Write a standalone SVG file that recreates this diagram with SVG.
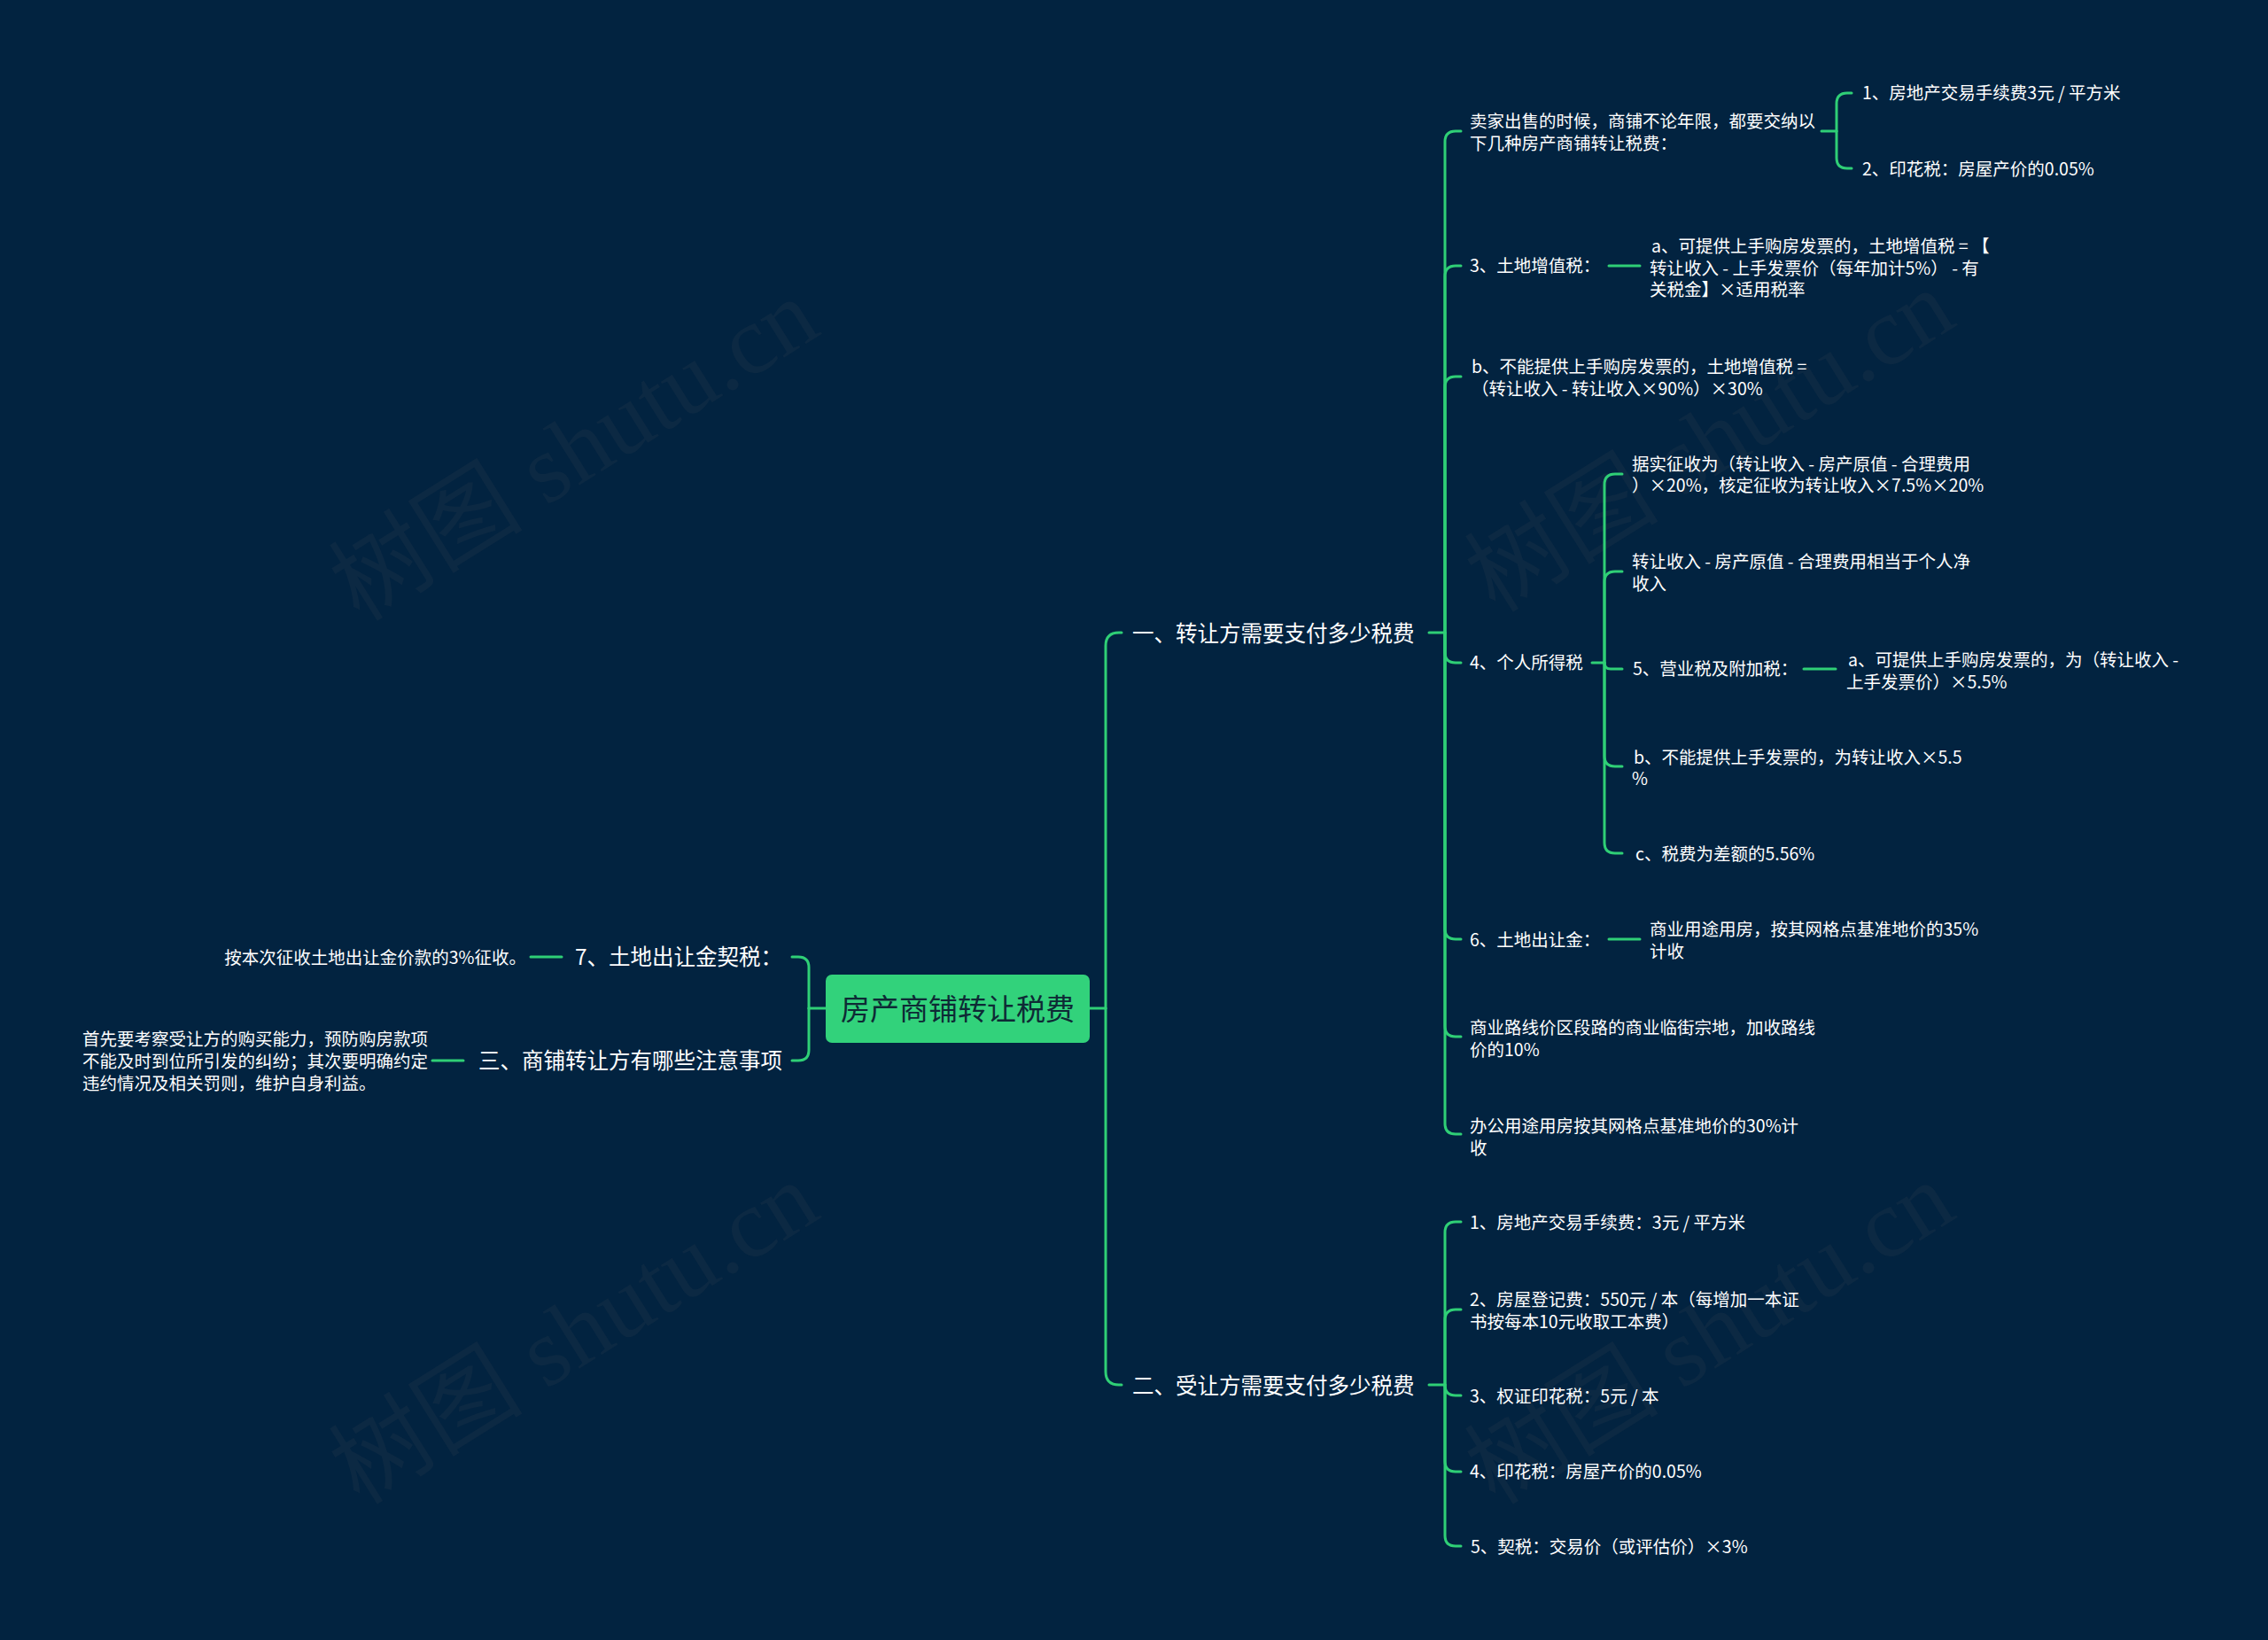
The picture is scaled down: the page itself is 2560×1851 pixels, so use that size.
<svg xmlns="http://www.w3.org/2000/svg" width="2560" height="1851" viewBox="0 0 2560 1851">
<style>
.conn{fill:none;stroke:#2fcf76;stroke-width:3;stroke-linecap:round;stroke-linejoin:round}
.t1{font-family:"Noto Sans CJK SC","Noto Sans",sans-serif;font-size:24.5px;fill:#ffffff;dominant-baseline:central}
.t2{font-family:"Noto Sans CJK SC","Noto Sans",sans-serif;font-size:19.5px;fill:#ffffff;dominant-baseline:central}
.root{font-family:"Noto Sans CJK SC","Noto Sans",sans-serif;font-size:33px;fill:#0e2a35;dominant-baseline:central;text-anchor:middle}
.wm{font-family:"Liberation Serif","Noto Sans CJK SC",serif;font-size:110px;fill:#0c2943;text-anchor:middle;dominant-baseline:central}
.end{text-anchor:end}
</style>
<rect x="0" y="0" width="2560" height="1851" fill="#022340"/>
<g id="watermarks">
<text class="wm" transform="translate(648,508) rotate(-32)">树图 shutu.cn</text>
<text class="wm" transform="translate(1930,498) rotate(-32)">树图 shutu.cn</text>
<text class="wm" transform="translate(648,1505) rotate(-32)">树图 shutu.cn</text>
<text class="wm" transform="translate(1930,1505) rotate(-32)">树图 shutu.cn</text>
</g>
<g id="connectors">
<path class="conn" d="M1230,1138 H1248"/>
<path class="conn" d="M1248,1138 V729 Q1248,714 1263,714 H1266"/>
<path class="conn" d="M1248,1138 V1548 Q1248,1563 1263,1563 H1266"/>
<path class="conn" d="M932,1138 H913"/>
<path class="conn" d="M913,1138 V1092 Q913,1080 901,1080 H894"/>
<path class="conn" d="M913,1138 V1185 Q913,1197 901,1197 H894"/>
<path class="conn" d="M634,1080 H599"/>
<path class="conn" d="M523,1197 H488"/>
<path class="conn" d="M1613,714 H1631"/>
<path class="conn" d="M1631,714 V160 Q1631,148 1643,148 H1649"/>
<path class="conn" d="M1631,714 V312 Q1631,300 1643,300 H1649"/>
<path class="conn" d="M1631,714 V437 Q1631,425 1643,425 H1649"/>
<path class="conn" d="M1631,714 V736 Q1631,748 1643,748 H1649"/>
<path class="conn" d="M1631,714 V1048 Q1631,1060 1643,1060 H1649"/>
<path class="conn" d="M1631,714 V1158 Q1631,1170 1643,1170 H1649"/>
<path class="conn" d="M1631,714 V1268 Q1631,1280 1643,1280 H1649"/>
<path class="conn" d="M2056,148 H2073"/>
<path class="conn" d="M2073,148 V117 Q2073,105 2085,105 H2090"/>
<path class="conn" d="M2073,148 V178 Q2073,190 2085,190 H2090"/>
<path class="conn" d="M1816,300 H1851"/>
<path class="conn" d="M1797,748 H1811"/>
<path class="conn" d="M1811,748 V547 Q1811,535 1823,535 H1831"/>
<path class="conn" d="M1811,748 V657 Q1811,645 1823,645 H1831"/>
<path class="conn" d="M1811,748 Q1811,755 1818,755 H1831"/>
<path class="conn" d="M1811,748 V853 Q1811,865 1823,865 H1831"/>
<path class="conn" d="M1811,748 V951 Q1811,963 1823,963 H1831"/>
<path class="conn" d="M2036,755 H2072"/>
<path class="conn" d="M1816,1060 H1851"/>
<path class="conn" d="M1613,1563 H1631"/>
<path class="conn" d="M1631,1563 V1391 Q1631,1379 1643,1379 H1649"/>
<path class="conn" d="M1631,1563 V1490 Q1631,1478 1643,1478 H1649"/>
<path class="conn" d="M1631,1563 Q1631,1575 1643,1575 H1649"/>
<path class="conn" d="M1631,1563 V1649 Q1631,1661 1643,1661 H1649"/>
<path class="conn" d="M1631,1563 V1733 Q1631,1745 1643,1745 H1649"/>
</g>
<g id="root">
<rect x="932" y="1100" width="298" height="77" rx="7" fill="#32d27b"/>
<text class="root" x="1081" y="1137">房产商铺转让税费</text>
</g>
<g id="nodes" transform="translate(0,-1.5)">
<g id="b1"><text class="t1" x="1278" y="715">一、转让方需要支付多少税费</text></g>
<g id="b2"><text class="t1" x="1278" y="1564">二、受让方需要支付多少税费</text></g>
<g id="b3"><text class="t1 end" x="883" y="1080">7、土地出让金契税：</text></g>
<g id="b4"><text class="t1 end" x="883" y="1197">三、商铺转让方有哪些注意事项</text></g>
<g id="b3-1"><text class="t2 end" x="594" y="1081">按本次征收土地出让金价款的3%征收。</text></g>
<g id="b4-1"><text class="t2" x="93"><tspan x="93" y="1172">首先要考察受让方的购买能力，预防购房款项</tspan><tspan x="93" y="1197">不能及时到位所引发的纠纷；其次要明确约定</tspan><tspan x="93" y="1222">违约情况及相关罚则，维护自身利益。</tspan></text></g>
<g id="n1"><text class="t2"><tspan x="1659" y="136">卖家出售的时候，商铺不论年限，都要交纳以</tspan><tspan x="1659" y="161">下几种房产商铺转让税费：</tspan></text></g>
<g id="n1-1"><text class="t2" x="2102" y="105">1、房地产交易手续费3元 / 平方米</text></g>
<g id="n1-2"><text class="t2" x="2102" y="191">2、印花税：房屋产价的0.05%</text></g>
<g id="n2"><text class="t2" x="1659" y="300">3、土地增值税：</text></g>
<g id="n2-1"><text class="t2"><tspan x="1864" y="277">a、可提供上手购房发票的，土地增值税 = 【</tspan><tspan x="1862" y="302">转让收入 - 上手发票价（每年加计5%） - 有</tspan><tspan x="1862" y="326">关税金】×适用税率</tspan></text></g>
<g id="n3"><text class="t2"><tspan x="1661" y="413">b、不能提供上手购房发票的，土地增值税 =</tspan><tspan x="1661" y="438">（转让收入 - 转让收入×90%）×30%</tspan></text></g>
<g id="n4"><text class="t2" x="1659" y="748">4、个人所得税</text></g>
<g id="n4-1"><text class="t2"><tspan x="1842" y="523">据实征收为（转让收入 - 房产原值 - 合理费用</tspan><tspan x="1842" y="547">）×20%，核定征收为转让收入×7.5%×20%</tspan></text></g>
<g id="n4-2"><text class="t2"><tspan x="1842" y="633">转让收入 - 房产原值 - 合理费用相当于个人净</tspan><tspan x="1842" y="658">收入</tspan></text></g>
<g id="n4-3"><text class="t2" x="1843" y="755">5、营业税及附加税：</text></g>
<g id="n4-3-1"><text class="t2"><tspan x="2086" y="744">a、可提供上手购房发票的，为（转让收入 -</tspan><tspan x="2084" y="769">上手发票价）×5.5%</tspan></text></g>
<g id="n4-4"><text class="t2"><tspan x="1844" y="854">b、不能提供上手发票的，为转让收入×5.5</tspan><tspan x="1842" y="878">%</tspan></text></g>
<g id="n4-5"><text class="t2" x="1846" y="964">c、税费为差额的5.56%</text></g>
<g id="n5"><text class="t2" x="1659" y="1061">6、土地出让金：</text></g>
<g id="n5-1"><text class="t2"><tspan x="1862" y="1048">商业用途用房，按其网格点基准地价的35%</tspan><tspan x="1862" y="1073">计收</tspan></text></g>
<g id="n6"><text class="t2"><tspan x="1659" y="1159">商业路线价区段路的商业临街宗地，加收路线</tspan><tspan x="1659" y="1184">价的10%</tspan></text></g>
<g id="n7"><text class="t2"><tspan x="1659" y="1270">办公用途用房按其网格点基准地价的30%计</tspan><tspan x="1659" y="1295">收</tspan></text></g>
<g id="m1"><text class="t2" x="1659" y="1380">1、房地产交易手续费：3元 / 平方米</text></g>
<g id="m2"><text class="t2"><tspan x="1659" y="1466">2、房屋登记费：550元 / 本（每增加一本证</tspan><tspan x="1659" y="1491">书按每本10元收取工本费）</tspan></text></g>
<g id="m3"><text class="t2" x="1659" y="1576">3、权证印花税：5元 / 本</text></g>
<g id="m4"><text class="t2" x="1659" y="1661">4、印花税：房屋产价的0.05%</text></g>
<g id="m5"><text class="t2" x="1660" y="1746">5、契税：交易价（或评估价）×3%</text></g>
</g>
</svg>
